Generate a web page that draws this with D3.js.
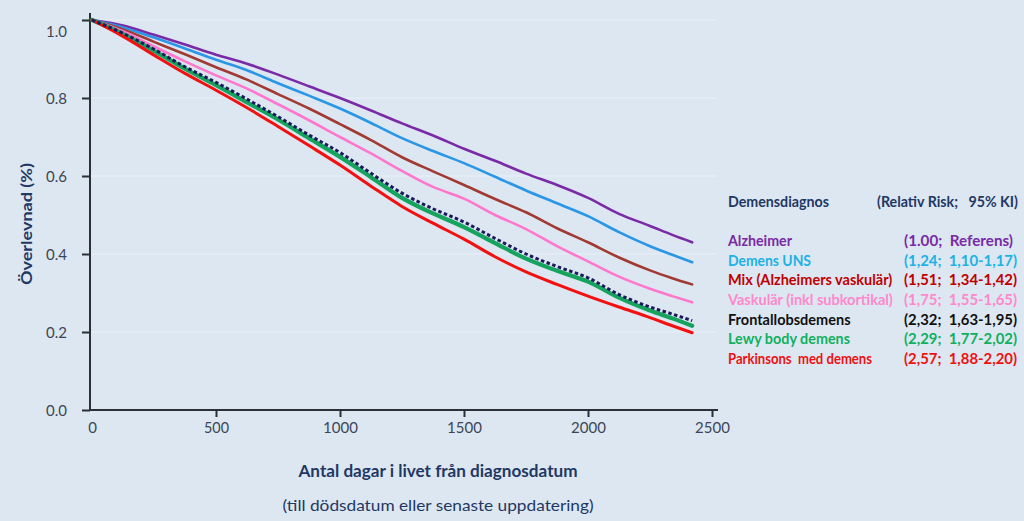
<!DOCTYPE html>
<html><head><meta charset="utf-8">
<script src="https://cdn.jsdelivr.net/npm/d3@7"></script>
<style>
html,body{margin:0;padding:0;background:#dde7f2;}
svg{display:block;}
text{font-family:Lato,"Open Sans",sans-serif;}
</style></head>
<body>
<svg id="chart" width="1024" height="521"></svg>
<script>
// ---- data ----
const days = [0,125,250,375,500,625,750,875,1000,1125,1250,1375,1500,1625,1750,1875,2000,2125,2250,2340,2420];
const alzheimer  = [1.0,0.986,0.962,0.937,0.911,0.888,0.860,0.830,0.800,0.768,0.735,0.704,0.670,0.639,0.606,0.577,0.544,0.503,0.472,0.449,0.430];
const demensUNS  = [1.0,0.981,0.955,0.927,0.898,0.871,0.838,0.806,0.773,0.736,0.697,0.664,0.633,0.598,0.563,0.530,0.497,0.456,0.420,0.398,0.379];
const mix        = [1.0,0.976,0.944,0.912,0.879,0.847,0.810,0.773,0.733,0.692,0.648,0.612,0.577,0.541,0.507,0.466,0.430,0.391,0.358,0.338,0.322];
const vaskular   = [1.0,0.971,0.932,0.894,0.858,0.824,0.784,0.743,0.700,0.658,0.613,0.572,0.542,0.500,0.464,0.420,0.381,0.342,0.311,0.292,0.276];
const frontal    = [1.0,0.966,0.925,0.880,0.840,0.797,0.752,0.705,0.660,0.607,0.556,0.516,0.482,0.440,0.400,0.368,0.339,0.296,0.264,0.246,0.229];
const lewy       = [1.0,0.964,0.921,0.875,0.833,0.789,0.745,0.697,0.649,0.597,0.544,0.504,0.469,0.428,0.388,0.357,0.329,0.288,0.255,0.235,0.216];
const parkinson  = [1.0,0.958,0.910,0.863,0.820,0.775,0.727,0.678,0.628,0.574,0.522,0.479,0.438,0.393,0.354,0.322,0.292,0.264,0.237,0.216,0.198];

const seriesNames = ["Alzheimer","Demens UNS","Mix (Alzheimers vaskulär)","Vaskulär (inkl subkortikal)","Frontallobsdemens","Lewy body demens","Parkinsons  med demens"];
const seriesRR    = ["(1.00;  Referens)","(1,24;  1,10-1,17)","(1,51;  1,34-1,42)","(1,75;  1,55-1,65)","(2,32;  1,63-1,95)","(2,29;  1,77-2,02)","(2,57;  1,88-2,20)"];
const xTicks = [0,500,1000,1500,2000,2500];
const yTicks = [0.0,0.2,0.4,0.6,0.8,1.0];

const legendTitle = "Demensdiagnos";
const legendTitle2 = "(Relativ Risk;   95% KI)";
const yTitle = "Överlevnad (%)";
const xTitle = "Antal dagar i livet från diagnosdatum";
const xSubtitle = "(till dödsdatum eller senaste uppdatering)";

// ---- styling ----
const lineColors = ["#7a2aa6","#2a96e6","#a23a34","#ff77cc","#1b1b5c","#15a35e","#f21010"];
const textColors = ["#7a2aa6","#1cb2e6","#c00000","#ff88cc","#111111","#10b060","#f01010"];

const svg = d3.select("#chart");
const x = d3.scaleLinear().domain([0,2500]).range([92,712]);
const y = d3.scaleLinear().domain([0,1]).range([410,20]);

// gridlines
svg.append("g").selectAll("line").data(yTicks.filter(d=>d>0)).join("line")
  .attr("x1",90).attr("x2",716).attr("y1",d=>y(d)).attr("y2",d=>y(d))
  .attr("stroke","#e9eff7").attr("stroke-width",1.2);

function fit(sel, w){
  sel.each(function(){
    const L=this.getComputedTextLength();
    if(Math.abs(L-w)>1){ d3.select(this).attr("textLength",w).attr("lengthAdjust","spacingAndGlyphs"); }
  });
}

// axes
const axisColor="#2b2f38";
const yAxis = svg.append("g").attr("transform","translate(90,0)")
  .call(d3.axisLeft(y).tickValues(yTicks).tickFormat(d3.format(".1f")).tickSize(8).tickSizeOuter(0));
yAxis.select(".domain").remove();
yAxis.append("line").attr("x1",0).attr("x2",0).attr("y1",13).attr("y2",411).attr("stroke",axisColor).attr("stroke-width",2);
yAxis.selectAll(".tick line").attr("stroke",axisColor).attr("stroke-width",2);
yAxis.selectAll(".tick text").attr("fill","#3c4656").attr("font-size",15).attr("x",-23)
  .attr("dy",d=>d===1?"1.1em":"0.35em");

const xAxis = svg.append("g").attr("transform","translate(0,410)")
  .call(d3.axisBottom(x).tickValues(xTicks).tickFormat(d3.format("d")).tickSize(7).tickSizeOuter(0));
xAxis.select(".domain").remove();
xAxis.append("line").attr("x1",89).attr("x2",718).attr("y1",0).attr("y2",0).attr("stroke",axisColor).attr("stroke-width",2);
xAxis.selectAll(".tick line").attr("stroke",axisColor).attr("stroke-width",2).attr("y1",0).attr("y2",d=>d===0?0:7);
xAxis.selectAll(".tick text").attr("fill","#3c4656").attr("font-size",15).attr("y",18).attr("dy","0.35em");
xAxis.selectAll(".tick text").each(function(d){ const w={0:8,500:25,1000:34,1500:34,2000:34,2500:34}[d]; fit(d3.select(this),w); });

// lines
const allSeries = [alzheimer,demensUNS,mix,vaskular,frontal,lewy,parkinson];
const line = d3.line().x((d,i)=>x(days[i])).y(d=>y(d)).curve(d3.curveMonotoneX);
const order = [0,1,2,3,5,6,4];
const g = svg.append("g");
order.forEach(i=>{
  const p = g.append("path").datum(allSeries[i]).attr("d",line).attr("fill","none")
    .attr("stroke",lineColors[i]).attr("stroke-linejoin","round").attr("stroke-linecap","round")
    .attr("stroke-width", i===5?4.2:(i===6?3:2.6));
  if(i===4){ p.attr("stroke-dasharray","3.5,2.5").attr("stroke-linecap","butt").attr("stroke-width",3); }
});

// axis titles
const yt = svg.append("text").attr("transform","translate(26,224) rotate(-90)").attr("text-anchor","middle")
  .attr("dy","0.35em").attr("font-size",16).attr("font-weight","bold").attr("fill","#1f3864").text(yTitle);
fit(yt,122);
const xt = svg.append("text").attr("x",438).attr("y",471).attr("text-anchor","middle").attr("dy","0.35em")
  .attr("font-size",17).attr("font-weight","bold").attr("fill","#1f3864").text(xTitle);
fit(xt,279);
const xs = svg.append("text").attr("x",438).attr("y",505).attr("text-anchor","middle").attr("dy","0.35em")
  .attr("font-size",16).attr("fill","#1f3864").text(xSubtitle);
fit(xs,311);

// legend
const lt = svg.append("text").attr("x",728).attr("y",202).attr("dy","0.35em").attr("font-size",14.5)
  .attr("font-weight","bold").attr("fill","#1f3864").text(legendTitle);
fit(lt,101);
const lt2 = svg.append("text").attr("x",877).attr("y",202).attr("dy","0.35em").attr("font-size",14.5)
  .attr("font-weight","bold").attr("fill","#1f3864").attr("xml:space","preserve").text(legendTitle2);
fit(lt2,141);

const leftW = [64,83,164,164,122,122,144];
const rightW = [109,113,113,113,113,113,113];
const rowY = d3.scaleLinear().domain([0,6]).range([241,359]);
seriesNames.forEach((n,i)=>{
  const a = svg.append("text").attr("x",728).attr("y",rowY(i)).attr("dy","0.35em").attr("font-size",14.5)
    .attr("font-weight","bold").attr("fill",textColors[i]).attr("xml:space","preserve").text(n);
  fit(a,leftW[i]);
  const b = svg.append("text").attr("x",904).attr("y",rowY(i)).attr("dy","0.35em").attr("font-size",14.5)
    .attr("font-weight","bold").attr("fill",textColors[i]).attr("xml:space","preserve").text(seriesRR[i]);
  fit(b,rightW[i]);
});
</script>
</body></html>
